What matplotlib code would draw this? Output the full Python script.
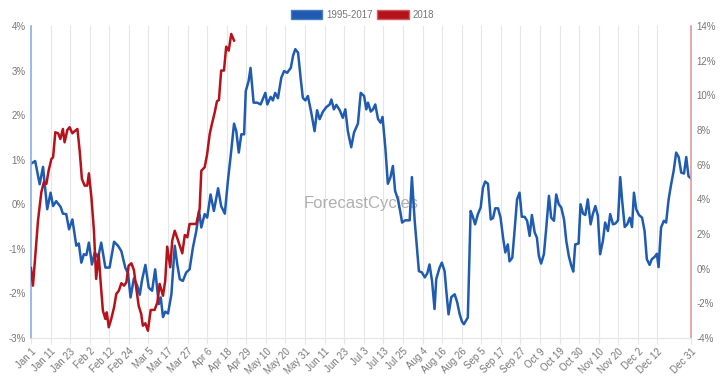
import numpy as np
import matplotlib
matplotlib.use("Agg")
import matplotlib.pyplot as plt

plt.rcParams["font.family"] = ["Liberation Sans", "DejaVu Sans"]

# x tick labels (one every 7 trading days, plus the year end)
tick_labels = ["Jan 1", "Jan 11", "Jan 23", "Feb 2", "Feb 12", "Feb 24", "Mar 5",
               "Mar 17", "Mar 27", "Apr 6", "Apr 18", "Apr 29", "May 10", "May 20",
               "May 31", "Jun 11", "Jun 23", "Jul 3", "Jul 13", "Jul 25", "Aug 4",
               "Aug 16", "Aug 26", "Sep 5", "Sep 17", "Sep 27", "Oct 9", "Oct 19",
               "Oct 30", "Nov 10", "Nov 20", "Dec 2", "Dec 12", "Dec 31"]
tick_days = list(range(0, 225, 7)) + [236]

# 1995-2017 average (left axis, %), by trading day
avg_day = [0, 1.5, 3.1, 4.3, 4.9, 5.8, 7.0, 7.9, 9.0, 10.6, 11.4, 12.6, 13.6, 14.8,
           16.2, 17.1, 18.0, 18.9, 19.8, 20.7, 21.8, 22.8, 24.0, 25.1, 26.6, 28.1,
           29.7, 31.1, 32.3, 33.7, 34.7, 35.6, 36.8, 38.0, 38.9, 39.7, 40.9, 42.1,
           43.3, 44.4, 45.7, 46.4, 47.2, 48.0, 49.0, 50.2, 51.4, 52.3, 53.2, 54.3,
           55.5, 56.7, 57.9, 59.1, 60.1, 60.9, 62.1, 63.0, 64.2, 65.4, 66.9, 68.0,
           69.3, 70.4, 71.6, 72.6, 73.4, 74.3, 75.2, 76.2, 76.8, 77.8, 78.5, 79.6,
           80.9, 82.1, 83.8, 84.5, 85.7, 86.5, 87.3, 88.3, 89.5, 90.5, 91.6, 92.9,
           93.7, 94.5, 95.5, 96.4, 97.2, 98.1, 99.0, 100.2, 101.4, 102.3, 103.2,
           104.4, 105.6, 106.8, 107.4, 108.3, 109.2, 110.4, 111.5, 112.4, 113.3,
           114.5, 115.5, 116.9, 117.9, 119.1, 119.9, 120.5, 121.5, 122.3, 123.1,
           124.1, 125.0, 125.7, 126.7, 127.6, 128.5, 129.4, 130.2, 131.2, 132.0,
           132.7, 133.8, 135.4, 136.2, 137.2, 138.1, 138.7, 139.8, 140.8, 141.7,
           142.5, 143.4, 144.3, 144.9, 146.1, 146.9, 147.9, 148.5, 149.3, 150.3,
           151.5, 152.4, 153.3, 154.1, 154.8, 156.2, 157.2, 158.0, 158.8, 159.8,
           160.8, 161.6, 162.4, 163.4, 164.4, 165.2, 166.0, 167.0, 167.9, 168.8,
           169.6, 170.5, 171.1, 172.1, 172.9, 173.8, 174.7, 175.5, 176.5, 177.4,
           178.3, 179.1, 180.1, 180.9, 181.6, 182.4, 183.4, 184.2, 185.2, 186.0,
           187.0, 187.8, 188.7, 189.6, 190.6, 191.4, 192.3, 193.2, 193.9, 194.6,
           195.8, 196.5, 197.4, 198.2, 199.1, 200.1, 200.9, 201.8, 202.7, 203.5,
           204.5, 205.3, 206.3, 207.1, 208.1, 209.0, 209.9, 210.7, 211.4, 212.3,
           213.2, 214.1, 214.9, 215.6, 216.4, 217.4, 218.5, 219.4, 220.2, 221.2,
           222.0, 223.0, 223.8, 224.4, 225.3, 226.3, 227.1, 228.0, 228.9, 229.8,
           230.7, 231.6, 232.5, 233.5, 234.3, 235.1, 236.0]
avg_val = [0.91, 0.97, 0.45, 0.84, 0.45, -0.11, 0.26, -0.04, 0.07, -0.06, -0.21,
           -0.22, -0.56, -0.34, -0.93, -0.88, -1.31, -1.12, -1.14, -0.86, -1.35,
           -1.08, -1.20, -0.86, -1.42, -1.42, -0.84, -0.93, -1.05, -1.42, -1.55,
           -2.09, -1.66, -1.83, -2.03, -1.70, -1.36, -1.87, -1.94, -1.46, -2.24,
           -2.09, -2.53, -2.41, -2.45, -2.02, -0.93, -1.35, -1.68, -1.72, -1.53,
           -1.46, -0.97, -0.60, -0.15, -0.52, -0.22, -0.30, 0.22, -0.15, 0.36,
           -0.04, -0.21, 0.52, 1.20, 1.81, 1.64, 1.16, 1.57, 1.57, 2.54, 2.76,
           3.06, 2.28, 2.28, 2.24, 2.50, 2.24, 2.41, 2.33, 2.50, 2.38, 2.84, 2.99,
           2.95, 3.06, 3.33, 3.48, 3.40, 2.84, 2.39, 2.33, 2.43, 2.06, 1.64, 2.11,
           1.91, 2.08, 2.18, 2.24, 2.35, 2.13, 2.23, 2.11, 1.94, 2.13, 1.64, 1.28,
           1.61, 1.81, 2.50, 2.43, 2.13, 2.28, 2.08, 2.13, 2.24, 1.91, 1.83, 1.96,
           1.27, 0.46, 0.60, 0.86, 0.30, 0.11, -0.15, -0.41, -0.36, -0.36, 0.61,
           -0.37, -1.05, -1.50, -1.53, -1.64, -1.55, -1.35, -1.72, -2.35, -1.68,
           -1.42, -1.31, -1.50, -1.94, -2.47, -2.08, -2.02, -2.20, -2.47, -2.63,
           -2.69, -2.54, -0.15, -0.28, -0.45, -0.22, -0.07, 0.37, 0.51, 0.46,
           -0.34, -0.31, -0.09, -0.09, -0.30, -0.75, -1.08, -0.90, -1.28, -1.20,
           -0.60, 0.11, 0.26, -0.28, -0.28, -0.37, -0.71, -0.24, -0.63, -0.75,
           -1.16, -1.33, -1.12, -0.56, 0.19, -0.30, -0.37, 0.22, 0.00, -0.07,
           -0.34, -0.82, -1.16, -1.38, -1.51, -0.90, -0.88, 0.00, -0.21, -0.24,
           0.11, -0.45, -0.22, -0.04, -0.26, -1.12, -0.82, -0.41, -0.60, -0.22,
           -0.45, -0.43, -0.36, 0.61, 0.07, -0.51, -0.45, -0.30, -0.51, 0.26,
           -0.11, -0.24, -0.30, -0.60, -1.23, -1.36, -1.23, -1.18, -1.11, -1.41,
           -0.52, -0.37, -0.41, 0.11, 0.45, 0.75, 1.16, 1.06, 0.71, 0.69, 1.06,
           0.63, 0.58]

# 2018 (right axis, %)
y2018_day = [0, 0.7, 1.5, 2.5, 3.7, 4.6, 5.5, 6.3, 7.3, 7.9, 8.7, 9.7, 10.5, 11.4,
             12.0, 13.0, 13.8, 14.8, 15.6, 16.6, 17.4, 18.2, 19.2, 20.1, 20.7,
             21.6, 22.5, 23.3, 24.2, 24.9, 25.7, 26.6, 27.1, 27.8, 28.7, 29.7,
             30.5, 31.4, 32.3, 33.3, 34.1, 34.9, 35.9, 36.8, 37.6, 38.5, 39.4,
             40.0, 40.9, 41.8, 42.8, 44.2, 45.2, 46.0, 47.2, 48.0, 48.7, 49.8,
             50.5, 51.4, 52.6, 54.1, 55.0, 55.9, 56.7, 57.9, 59.1, 60.3, 60.9,
             62.1, 63.0, 63.9, 64.7, 65.7, 66.5, 67.2, 68.0, 69.0, 69.8, 70.7,
             71.6, 72.6]
y2018_val = [0.04, -0.98, 0.66, 2.77, 4.41, 4.99, 4.89, 5.65, 6.33, 6.43, 7.87,
             7.81, 7.48, 8.06, 7.29, 8.00, 8.16, 7.81, 7.93, 8.06, 6.81, 5.18,
             4.79, 4.79, 5.50, 4.12, 2.19, -0.59, 0.85, -0.78, -2.42, -2.90,
             -2.52, -3.38, -2.90, -2.23, -1.46, -1.27, -0.84, -0.98, -0.78, 0.17,
             0.31, -0.08, -1.07, -2.14, -2.61, -3.29, -3.15, -3.58, -2.38, -2.38,
             -1.94, -0.88, -1.56, -0.69, 1.27, 0.08, 1.62, 2.19, 1.62, 0.89, 1.94,
             1.81, 2.58, 2.58, 2.58, 3.44, 5.65, 5.85, 6.62, 7.77, 8.35, 9.02,
             9.66, 9.73, 11.43, 11.43, 12.81, 12.58, 13.54, 13.16]

blue = "#1f5bb0"
red = "#b5121b"
txt = "#777777"

fig = plt.figure(figsize=(7.25, 3.76), dpi=100)
ax = fig.add_axes([31 / 725, 1 - 338 / 376, 660 / 725, 312 / 376])
ax2 = ax.twinx()

ax.plot(avg_day, avg_val, color=blue, lw=1.8, label="1995-2017", zorder=3)
ax2.plot(y2018_day, y2018_val, color=red, lw=1.8, label="2018", zorder=3)

ax.set_xlim(0, 236)
ax.set_ylim(-3, 4)
ax2.set_ylim(-4, 14)
ax.set_yticks(range(-3, 5))
ax.set_yticklabels([f"{v}%" for v in range(-3, 5)])
ax2.set_yticks(range(-4, 15, 2))
ax2.set_yticklabels([f"{v}%" for v in range(-4, 15, 2)])

ax.set_xticks(tick_days)
ax.set_xticklabels(tick_labels, rotation=45, ha="right", rotation_mode="anchor")
ax.grid(axis="x", color="#e6e6e6", lw=0.8)
ax.set_axisbelow(True)

for a in (ax, ax2):
    a.tick_params(axis="y", length=0, labelsize=7, labelcolor=txt, pad=4)
    a.tick_params(axis="x", length=4, color="#e6e6e6", labelsize=7,
                  labelcolor=txt, pad=2)
    a.spines["top"].set_visible(False)
    a.spines["bottom"].set_color("#e6e6e6")
    a.spines["left"].set_visible(False)
    a.spines["right"].set_visible(False)
ax2.spines["left"].set_visible(True)
ax2.spines["left"].set_color("#8db1e0")
ax2.spines["left"].set_linewidth(1.2)
ax2.spines["right"].set_visible(True)
ax2.spines["right"].set_color("#e39a9a")
ax2.spines["right"].set_linewidth(1.2)

ax.text(0.5, 0.43, "ForecastCycles", transform=ax.transAxes, ha="center",
        va="center", fontsize=12, color="#b0b0b0", zorder=1)

h1, l1 = ax.get_legend_handles_labels()
h2, l2 = ax2.get_legend_handles_labels()
handles = [plt.Rectangle((0, 0), 1, 1, fc=blue, ec="#4a7cc4"),
           plt.Rectangle((0, 0), 1, 1, fc=red, ec="#d06060")]
fig.legend(handles, l1 + l2, loc="center", bbox_to_anchor=(0.5, 1 - 15 / 376),
           ncol=2, frameon=False, fontsize=7, labelcolor=txt,
           handlelength=3.2, handleheight=1.0, handletextpad=0.4,
           columnspacing=0.5)

fig.savefig("out.png", dpi=100)
